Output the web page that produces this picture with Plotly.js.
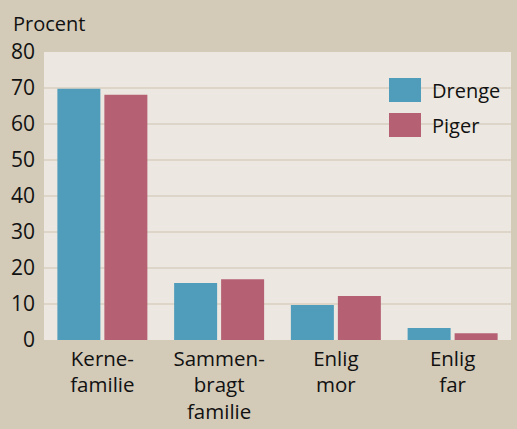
<!DOCTYPE html>
<html>
<head>
<meta charset="utf-8">
<script src="https://cdn.plot.ly/plotly-3.0.1.min.js"></script>
<style>html,body{margin:0;padding:0;background:#d3cab8;}#chart{width:517px;height:429px;}</style>
</head>
<body>
<div id="chart"></div>
<script>
const categories = ["Kerne-<br>familie", "Sammen-<br>bragt<br>familie", "Enlig<br>mor", "Enlig<br>far"];
const drenge = [69.8, 15.8, 9.7, 3.3];
const piger = [68.1, 16.9, 12.2, 1.9];
const seriesNames = ["Drenge", "Piger"];
const yTicks = [0, 10, 20, 30, 40, 50, 60, 70, 80];

const BLUE = "#509dbb";
const ROSE = "#b56073";
const FONT = "Open Sans, Noto Sans, sans-serif";

const traces = [
  {type: "bar", x: categories, y: drenge, name: seriesNames[0], marker: {color: BLUE}, hoverinfo: "skip"},
  {type: "bar", x: categories, y: piger, name: seriesNames[1], marker: {color: ROSE}, hoverinfo: "skip"}
];

const layout = {
  width: 517, height: 429,
  margin: {l: 44, r: 6, t: 52, b: 89},
  paper_bgcolor: "#d3cab8",
  plot_bgcolor: "#ece8e1",
  barmode: "group",
  bargap: 0.195,
  bargroupgap: 0.085,
  showlegend: false,
  font: {family: FONT, size: 20, color: "#111111"},
  xaxis: {
    showgrid: false, zeroline: false, showline: false, ticks: "",
    tickfont: {family: FONT, size: 20.5, color: "#111111"},
    ticklabelstandoff: 4,
    fixedrange: true
  },
  yaxis: {
    range: [0, 80], tickvals: yTicks, ticktext: yTicks.map(String),
    showgrid: true, gridcolor: "#ddd5c7", gridwidth: 2,
    zeroline: false, showline: false, ticks: "", ticklabelstandoff: 8,
    tickfont: {family: FONT, size: 21, color: "#111111"},
    fixedrange: true
  },
  shapes: [
    {type: "rect", xref: "paper", yref: "paper", x0: 345/467, x1: 377/467, y0: (340-102)/288, y1: (340-78)/288, fillcolor: BLUE, line: {width: 0}},
    {type: "rect", xref: "paper", yref: "paper", x0: 345/467, x1: 377/467, y0: (340-137)/288, y1: (340-113)/288, fillcolor: ROSE, line: {width: 0}}
  ],
  annotations: [
    {text: "Procent", xref: "paper", yref: "paper", x: -33/467, y: (340-24)/288, xanchor: "left", yanchor: "middle", showarrow: false, font: {family: FONT, size: 20, color: "#111111"}},
    {text: seriesNames[0], xref: "paper", yref: "paper", x: 386/467, y: (340-90)/288, xanchor: "left", yanchor: "middle", showarrow: false, font: {family: FONT, size: 20, color: "#111111"}},
    {text: seriesNames[1], xref: "paper", yref: "paper", x: 386/467, y: (340-125)/288, xanchor: "left", yanchor: "middle", showarrow: false, font: {family: FONT, size: 20, color: "#111111"}}
  ]
};

Plotly.newPlot("chart", traces, layout, {displayModeBar: false, staticPlot: true});
</script>
</body>
</html>
